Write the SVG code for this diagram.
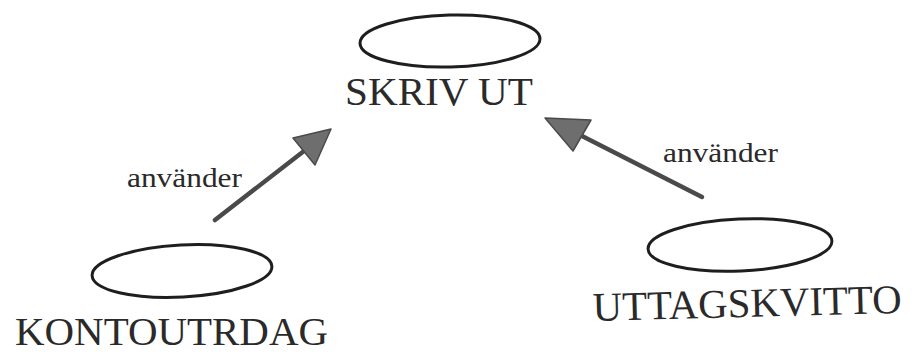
<svg xmlns="http://www.w3.org/2000/svg" width="923" height="354" viewBox="0 0 923 354">
  <style>
    .node ellipse { fill: none; stroke: #1e1e1e; stroke-width: 3; }
    .title { font-family: 'Liberation Serif', 'DejaVu Serif', 'Noto Serif', serif; font-size: 41px; fill: #2a2a2a; }
    .label { font-family: 'Liberation Serif', 'DejaVu Serif', 'Noto Serif', serif; font-size: 28px; fill: #2a2a2a; }
    .shaft { stroke: #4a4a4a; stroke-width: 4.5; stroke-linecap: round; fill: none; }
    .head { fill: #6e6e6e; stroke: #4a4a4a; stroke-width: 1.5; stroke-linejoin: round; }
  </style>
  <rect width="923" height="354" fill="#ffffff"/>

  <g id="skriv-ut" class="node">
    <ellipse cx="450" cy="41" rx="90" ry="26" transform="rotate(-1.5 450 41)"/>
    <text class="title" x="345" y="105" textLength="188" lengthAdjust="spacingAndGlyphs">SKRIV UT</text>
  </g>

  <g id="kontoutrdag" class="node">
    <ellipse cx="182" cy="271" rx="90" ry="26" transform="rotate(-3 182 271)"/>
    <text class="title" x="15" y="345" textLength="313" lengthAdjust="spacingAndGlyphs">KONTOUTRDAG</text>
  </g>

  <g id="uttagskvitto" class="node">
    <ellipse cx="740" cy="245" rx="92" ry="26" transform="rotate(-2.5 740 245)"/>
    <text class="title" x="593" y="321" textLength="309" lengthAdjust="spacingAndGlyphs" transform="rotate(-1.5 593 321)">UTTAGSKVITTO</text>
  </g>

  <g id="connectors">
    <line class="shaft" x1="215" y1="220" x2="304" y2="151"/>
    <polygon class="head" points="331,129 293,138 315,165"/>
    <text class="label" x="127" y="187" textLength="115" lengthAdjust="spacingAndGlyphs">använder</text>

    <line class="shaft" x1="702" y1="197" x2="582" y2="136"/>
    <polygon class="head" points="545,118 591,120 573,151"/>
    <text class="label" x="663" y="162" textLength="115" lengthAdjust="spacingAndGlyphs">använder</text>
  </g>
</svg>
